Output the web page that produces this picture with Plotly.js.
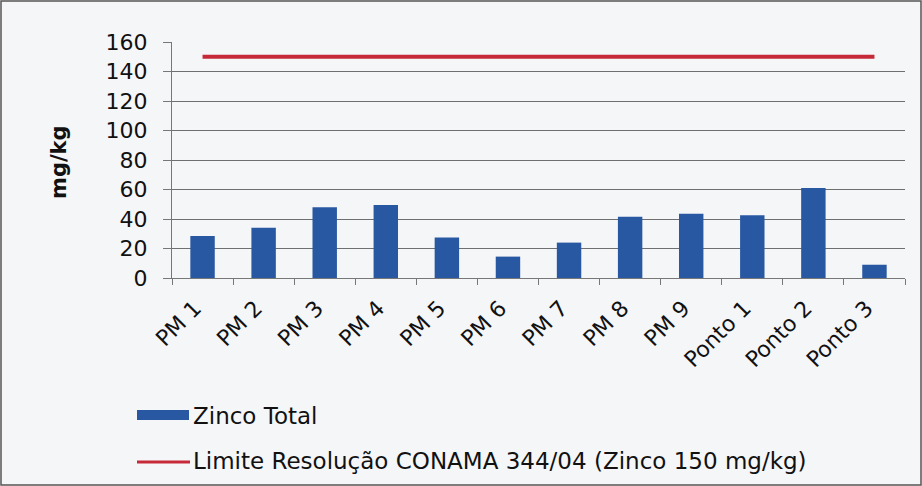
<!DOCTYPE html>
<html>
<head>
<meta charset="utf-8">
<script src="https://cdn.plot.ly/plotly-3.0.1.min.js"></script>
<style>html,body{margin:0;padding:0;background:#f5f6f8;}#chart{width:922px;height:486px;}</style>
</head>
<body>
<div id="chart"></div>
<script>
var categories = ["PM 1","PM 2","PM 3","PM 4","PM 5","PM 6","PM 7","PM 8","PM 9","Ponto 1","Ponto 2","Ponto 3"];
var zincoTotal = [28.5, 34, 48, 49.5, 27.5, 14.5, 24, 41.5, 43.5, 42.5, 61, 9];
var limite = [150,150,150,150,150,150,150,150,150,150,150,150];
var yTicks = [0,20,40,60,80,100,120,140,160];
var seriesNames = ["Zinco Total", "Limite Resolução CONAMA 344/04 (Zinco 150 mg/kg)"];

var W = 922, H = 486;
var L = 172, R = 17, T = 42, B = 208;
var pw = W - L - R, ph = H - T - B;
function px(x){ return (x - L) / pw; }
function py(y){ return (H - B - y) / ph; }

var FONT = "DejaVu Sans, Liberation Sans, Arial, sans-serif";
var blue = "#2958a3", red = "#c62a38";

var traces = [
  {type:"bar", x:categories, y:zincoTotal, name:seriesNames[0], marker:{color:blue}, showlegend:false, hoverinfo:"y"},
  {type:"scatter", mode:"lines", x:categories, y:limite, name:seriesNames[1], line:{color:red, width:4}, showlegend:false, hoverinfo:"y"}
];

var layout = {
  width:W, height:H,
  margin:{l:L, r:R, t:T, b:B, pad:0},
  paper_bgcolor:"#f5f6f8",
  plot_bgcolor:"rgba(0,0,0,0)",
  bargap:0.6,
  font:{family:FONT, color:"#111", size:20},
  xaxis:{
    type:"category", range:[-0.5, 11.5], tickangle:-45,
    tickson:"boundaries", ticks:"outside", ticklen:6, tickcolor:"#777",
    ticksuffix:"\u2002",
    showline:true, linecolor:"#777", linewidth:1, showgrid:false,
    tickfont:{family:FONT, size:22, color:"#111"}, fixedrange:true
  },
  yaxis:{
    range:[0,160], tickvals:yTicks, ticktext:yTicks.map(function(v){ return String(v) + "\u2002"; }),
    ticks:"outside", ticklen:8, tickcolor:"#777",
    showline:true, linecolor:"#777", linewidth:1,
    showgrid:true, gridcolor:"#6f6f6f", gridwidth:1, zeroline:false,
    tickfont:{family:FONT, size:22, color:"#111"}, fixedrange:true
  },
  shapes:[
    {type:"rect", xref:"paper", yref:"paper", x0:px(137), x1:px(189), y0:py(410), y1:py(420), fillcolor:blue, line:{width:0}},
    {type:"line", xref:"paper", yref:"paper", x0:px(137), x1:px(190), y0:py(462), y1:py(462), line:{color:red, width:3}},
    {type:"rect", xref:"paper", yref:"paper", x0:px(1), x1:px(921), y0:py(1), y1:py(485), line:{color:"#555", width:1.5}, fillcolor:"rgba(0,0,0,0)", layer:"below"}
  ],
  annotations:[
    {xref:"paper", yref:"paper", x:px(59), y:py(162), text:"<b>mg/kg</b>", textangle:-90, showarrow:false, xanchor:"center", yanchor:"middle", font:{family:FONT, size:21, color:"#111"}},
    {xref:"paper", yref:"paper", x:px(191), y:py(416), text:seriesNames[0], showarrow:false, xanchor:"left", yanchor:"middle", font:{family:FONT, size:23, color:"#111"}},
    {xref:"paper", yref:"paper", x:px(191), y:py(461), text:seriesNames[1], showarrow:false, xanchor:"left", yanchor:"middle", font:{family:FONT, size:23, color:"#111"}}
  ]
};

Plotly.newPlot("chart", traces, layout, {displayModeBar:false, staticPlot:true});
</script>
</body>
</html>
